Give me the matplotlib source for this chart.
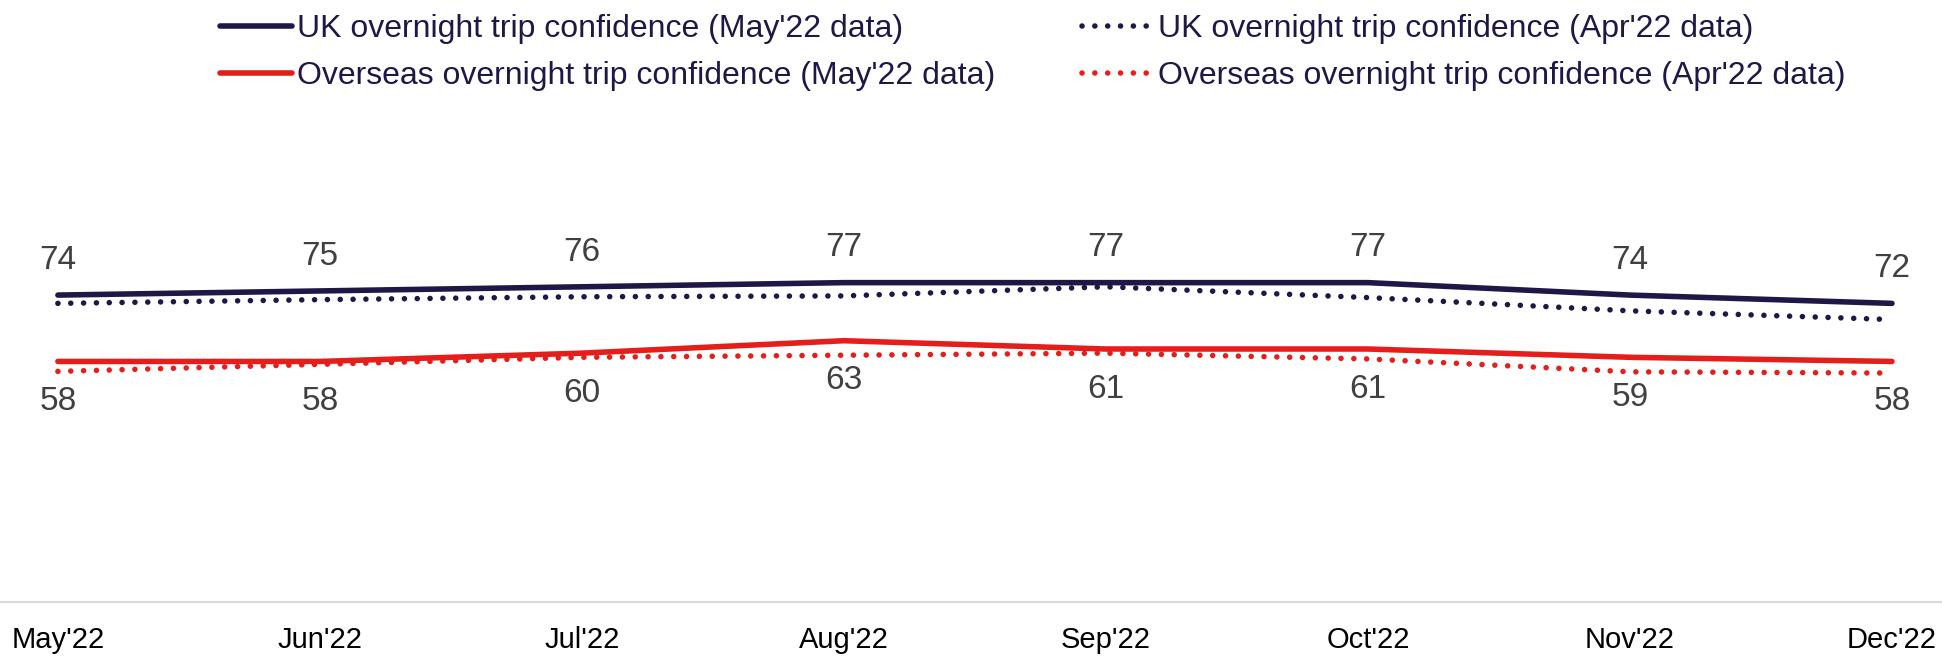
import numpy as np
import matplotlib.pyplot as plt

months = ["May'22", "Jun'22", "Jul'22", "Aug'22", "Sep'22", "Oct'22", "Nov'22", "Dec'22"]
uk_may = [74, 75, 76, 77, 77, 77, 74, 72]
uk_apr = [72, 72.9, 73.6, 73.8, 76, 73.4, 70.2, 68.1]
os_may = [58, 58, 60, 63, 61, 61, 59, 58]
os_apr = [55.6, 57.3, 59, 59.5, 60, 58.6, 55.5, 55.2]

navy = '#201747'
red = '#e41f1b'
lab_col = '#404040'

plt.rcParams['font.family'] = ['Liberation Sans', 'DejaVu Sans']

fig = plt.figure(figsize=(19.42, 6.57), dpi=100)
ax = fig.add_axes([0, 0.0837, 1, 0.6313])

x = np.arange(len(months))
dot = (0, (0.01, 2.3))

l1, = ax.plot(x, uk_may, color=navy, lw=4, solid_capstyle='round', zorder=4)
l2, = ax.plot(x, uk_apr, color=navy, lw=4, linestyle=dot, dash_capstyle='round', zorder=3)
l3, = ax.plot(x, os_may, color=red, lw=4, solid_capstyle='round', zorder=4)
l4, = ax.plot(x, os_apr, color=red, lw=4, linestyle=dot, dash_capstyle='round', zorder=3)

for i in range(len(months)):
    ax.annotate(str(uk_may[i]), (x[i], uk_may[i]), xytext=(0, 25), textcoords='offset points',
                ha='center', va='center', fontsize=24, color=lab_col)
    ax.annotate(str(os_may[i]), (x[i], os_may[i]), xytext=(0, -29), textcoords='offset points',
                ha='center', va='center', fontsize=24, color=lab_col)

ax.set_xlim(-0.221, 7.191)
ax.set_ylim(0, 100)
ax.set_xticks(x)
ax.set_xticklabels(months, fontsize=21, color='black')
ax.tick_params(axis='x', length=0, pad=17)
ax.set_yticks([])
for s in ['top', 'left', 'right']:
    ax.spines[s].set_visible(False)
ax.spines['bottom'].set_color('#d9d9d9')
ax.spines['bottom'].set_linewidth(1.5)

leg = fig.legend([l1, l3, l2, l4],
                 ["UK overnight trip confidence (May'22 data)",
                  "Overseas overnight trip confidence (May'22 data)",
                  "UK overnight trip confidence (Apr'22 data)",
                  "Overseas overnight trip confidence (Apr'22 data)"],
                 ncol=2, loc='upper left', bbox_to_anchor=(0.1135, 0.979), frameon=False,
                 fontsize=23, handlelength=2.25, handletextpad=0.15, columnspacing=2.7,
                 labelspacing=0.55, borderaxespad=0, borderpad=0)
for t in leg.get_texts():
    t.set_color(navy)

fig.savefig('out.png', dpi=100)
